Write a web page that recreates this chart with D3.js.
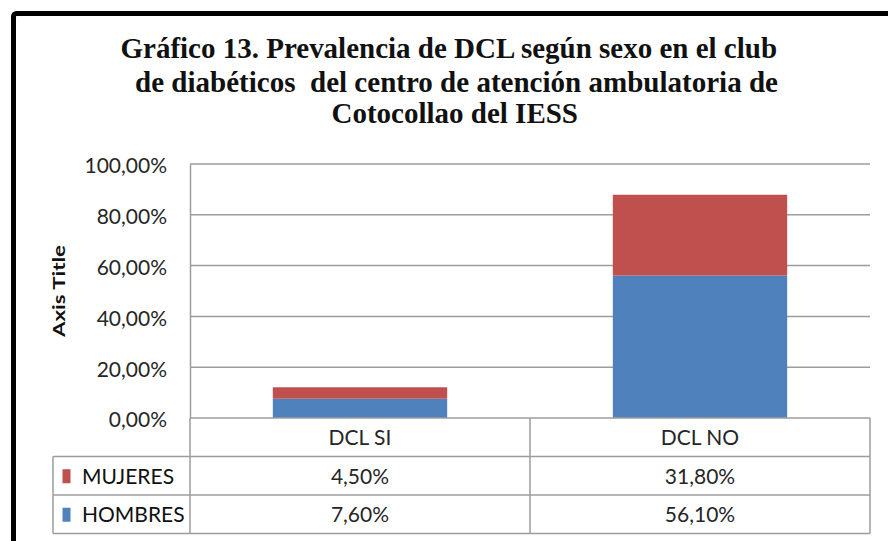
<!DOCTYPE html>
<html>
<head>
<meta charset="utf-8">
<script src="https://cdn.jsdelivr.net/npm/d3@7"></script>
<style>
  body { margin: 0; background: #fff; }
  svg { display: block; }
  .lbl { font-family: Lato, "Open Sans", sans-serif; font-size: 21px; fill: #262626; }
  .ttl { font-family: "Liberation Serif", "Times New Roman", serif; font-weight: bold; font-size: 29px; fill: #111; }
</style>
</head>
<body>
<script>
// data
var categories = ["DCL SI", "DCL NO"];
var series = ["MUJERES", "HOMBRES"];
var mujeres = [0.045, 0.318];
var hombres = [0.076, 0.561];
var yTicks = [0, 0.2, 0.4, 0.6, 0.8, 1];
var titleLines = [
  "Gráfico 13. Prevalencia de DCL según sexo en el club",
  "de diabéticos  del centro de atención ambulatoria de",
  "Cotocollao del IESS"
];
var colors = {"MUJERES": "#c0504d", "HOMBRES": "#4f81bd"};
var grid_col = "#9c9c9c";

var width = 888, height = 541;
var plot = {left: 190, right: 870, top: 164, bottom: 418};
var tableLeft = 53, rowH = 38.5;

var es = d3.formatLocale({decimal: ",", thousands: ".", grouping: [3], currency: ["", "€"]});
var pct = es.format(".2%");

var svg = d3.select("body").append("svg")
    .attr("width", width)
    .attr("height", height);

// outer frame (runs off the picture on right and bottom)
svg.append("rect")
    .attr("x", 13.5).attr("y", 13.5)
    .attr("width", 1000).attr("height", 1000)
    .attr("rx", 3)
    .attr("fill", "none")
    .attr("stroke", "#000")
    .attr("stroke-width", 5);

// title
var titleX = [120.5, 135, 331.5], titleW = [656.5, 643, 246.5], titleY = [58.3, 91.7, 123.3];
svg.append("g").selectAll("text")
  .data(titleLines)
  .enter().append("text")
    .attr("class", "ttl")
    .attr("x", function(d, i) { return titleX[i]; })
    .attr("y", function(d, i) { return titleY[i]; })
    .attr("textLength", function(d, i) { return titleW[i]; })
    .attr("lengthAdjust", "spacingAndGlyphs")
    .style("white-space", "pre")
    .text(function(d) { return d; });

// scales
var x = d3.scaleBand().domain(categories).range([plot.left, plot.right]).padding(0);
var y = d3.scaleLinear().domain([0, 1]).range([plot.bottom, plot.top]);
var barW = x.bandwidth() / 1.95;

// gridlines
svg.append("g").selectAll("line")
  .data(yTicks.slice(1))
  .enter().append("line")
    .attr("x1", plot.left).attr("x2", plot.right)
    .attr("y1", function(d) { return y(d); })
    .attr("y2", function(d) { return y(d); })
    .attr("stroke", grid_col)
    .attr("stroke-width", 1.5);

// y axis
var yAxis = svg.append("g")
    .attr("transform", "translate(" + plot.left + ",0)")
    .call(d3.axisLeft(y).tickValues(yTicks).tickFormat(pct).tickSize(0).tickPadding(23));
yAxis.select(".domain").attr("stroke", grid_col).attr("stroke-width", 1.5);
yAxis.selectAll("text")
    .attr("class", "lbl")
    .attr("font-family", null).attr("font-size", null)
    .attr("fill", null)
    .attr("dy", "0.42em");

svg.append("text")
    .attr("transform", "translate(65,291) rotate(-90)")
    .attr("text-anchor", "middle")
    .attr("textLength", 92)
    .attr("lengthAdjust", "spacingAndGlyphs")
    .style("font-family", "Lato, sans-serif")
    .style("font-weight", "bold")
    .style("font-size", "17px")
    .style("fill", "#111")
    .text("Axis Title");

// stacked bars
var rows = categories.map(function(c, i) { return {cat: c, HOMBRES: hombres[i], MUJERES: mujeres[i]}; });
var stack = d3.stack().keys(["HOMBRES", "MUJERES"])(rows);

svg.append("g").selectAll("g")
  .data(stack)
  .enter().append("g")
    .attr("fill", function(d) { return colors[d.key]; })
  .selectAll("rect")
  .data(function(d) { return d; })
  .enter().append("rect")
    .attr("x", function(d) { return x(d.data.cat) + (x.bandwidth() - barW) / 2; })
    .attr("width", barW)
    .attr("y", function(d) { return y(d[1]); })
    .attr("height", function(d) { return y(d[0]) - y(d[1]); });

// data table
var table = svg.append("g");
var tBottom = plot.bottom + 3 * rowH;

// horizontal lines
table.selectAll("line.h")
  .data([0, 1, 2, 3])
  .enter().append("line")
    .attr("class", "h")
    .attr("x1", function(d) { return d === 0 ? plot.left : tableLeft; })
    .attr("x2", plot.right)
    .attr("y1", function(d) { return plot.bottom + d * rowH; })
    .attr("y2", function(d) { return plot.bottom + d * rowH; })
    .attr("stroke", grid_col).attr("stroke-width", 1.5);

// vertical lines
var vlines = [{x: tableLeft, y0: plot.bottom + rowH}, {x: plot.left, y0: plot.bottom},
              {x: x(categories[1]), y0: plot.bottom}, {x: plot.right, y0: plot.bottom}];
table.selectAll("line.v")
  .data(vlines)
  .enter().append("line")
    .attr("class", "v")
    .attr("x1", function(d) { return d.x; }).attr("x2", function(d) { return d.x; })
    .attr("y1", function(d) { return d.y0; }).attr("y2", tBottom)
    .attr("stroke", grid_col).attr("stroke-width", 1.5);

// category header
table.selectAll("text.cat")
  .data(categories)
  .enter().append("text")
    .attr("class", "lbl cat")
    .attr("x", function(d) { return x(d) + x.bandwidth() / 2; })
    .attr("y", plot.bottom + rowH / 2 + 7.5)
    .attr("text-anchor", "middle")
    .text(function(d) { return d; });

// series rows
var tableSeries = [{name: "MUJERES", vals: mujeres}, {name: "HOMBRES", vals: hombres}];
tableSeries.forEach(function(s, r) {
  var cy = plot.bottom + rowH * (r + 1) + rowH / 2;
  table.append("rect")
    .attr("x", 62.5).attr("y", cy - 6.5)
    .attr("width", 8).attr("height", 14)
    .attr("fill", colors[s.name]);
  table.append("text")
    .attr("class", "lbl")
    .attr("x", 82).attr("y", cy + 8)
    .style("fill", "#111")
    .text(s.name);
  table.selectAll("text.v" + r)
    .data(s.vals)
    .enter().append("text")
      .attr("class", "lbl v" + r)
      .attr("x", function(d, i) { return x(categories[i]) + x.bandwidth() / 2; })
      .attr("y", cy + 8)
      .attr("text-anchor", "middle")
      .text(function(d) { return pct(d); });
});
</script>
</body>
</html>
